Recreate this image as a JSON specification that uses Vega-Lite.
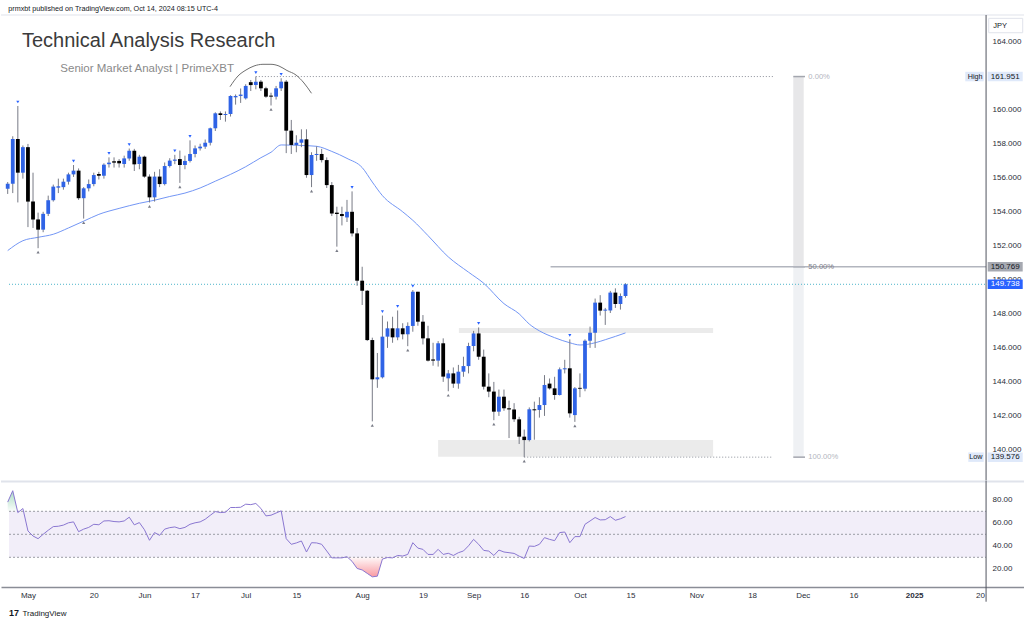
{
"$schema":"https://vega.github.io/schema/vega-lite/v6.json",
"autosize":"pad","padding":0,"background":"#ffffff","spacing":0,"bounds":"flush",
"config":{"view":{"stroke":null},"font":"Liberation Sans","axis":{"grid":false,"ticks":false,"domain":false,"labelFontSize":8,"labelColor":"#2a2e39"}},
"datasets":{
"candles":[
{"k":0,"d":"2024-04-25","o":155.35,"h":155.75,"l":155.05,"c":155.65,"pv":""},
{"k":1,"d":"2024-04-26","o":155.65,"h":158.44,"l":155.1,"c":158.28,"pv":""},
{"k":2,"d":"2024-04-29","o":158.28,"h":160.22,"l":154.55,"c":156.3,"pv":"H"},
{"k":3,"d":"2024-04-30","o":156.3,"h":157.9,"l":155.95,"c":157.8,"pv":""},
{"k":4,"d":"2024-05-01","o":157.8,"h":157.99,"l":153.1,"c":154.6,"pv":""},
{"k":5,"d":"2024-05-02","o":154.6,"h":156.3,"l":153.05,"c":153.55,"pv":""},
{"k":6,"d":"2024-05-03","o":153.55,"h":153.95,"l":151.86,"c":152.95,"pv":"L"},
{"k":7,"d":"2024-05-06","o":152.95,"h":154.0,"l":152.8,"c":153.88,"pv":""},
{"k":8,"d":"2024-05-07","o":153.88,"h":154.95,"l":153.75,"c":154.68,"pv":""},
{"k":9,"d":"2024-05-08","o":154.68,"h":155.6,"l":154.6,"c":155.48,"pv":""},
{"k":10,"d":"2024-05-09","o":155.42,"h":155.95,"l":155.1,"c":155.5,"pv":""},
{"k":11,"d":"2024-05-10","o":155.45,"h":155.95,"l":155.3,"c":155.77,"pv":""},
{"k":12,"d":"2024-05-13","o":155.77,"h":156.3,"l":155.6,"c":156.2,"pv":""},
{"k":13,"d":"2024-05-14","o":156.2,"h":156.75,"l":156.05,"c":156.42,"pv":"H"},
{"k":14,"d":"2024-05-15","o":156.42,"h":156.55,"l":154.7,"c":154.8,"pv":""},
{"k":15,"d":"2024-05-16","o":154.8,"h":155.45,"l":153.6,"c":155.38,"pv":"L"},
{"k":16,"d":"2024-05-17","o":155.38,"h":155.9,"l":155.2,"c":155.63,"pv":""},
{"k":17,"d":"2024-05-20","o":155.63,"h":156.3,"l":155.5,"c":156.16,"pv":""},
{"k":18,"d":"2024-05-21","o":156.22,"h":156.35,"l":155.9,"c":156.12,"pv":""},
{"k":19,"d":"2024-05-22","o":156.12,"h":156.85,"l":155.95,"c":156.77,"pv":""},
{"k":20,"d":"2024-05-23","o":156.8,"h":157.2,"l":156.6,"c":156.89,"pv":"H"},
{"k":21,"d":"2024-05-24","o":156.97,"h":157.2,"l":156.6,"c":156.89,"pv":""},
{"k":22,"d":"2024-05-27","o":156.99,"h":157.1,"l":156.6,"c":156.85,"pv":""},
{"k":23,"d":"2024-05-28","o":156.81,"h":157.3,"l":156.6,"c":157.14,"pv":""},
{"k":24,"d":"2024-05-29","o":157.14,"h":157.72,"l":157.0,"c":157.59,"pv":"H"},
{"k":25,"d":"2024-05-30","o":157.59,"h":157.7,"l":156.4,"c":156.79,"pv":""},
{"k":26,"d":"2024-05-31","o":156.81,"h":157.35,"l":156.5,"c":157.24,"pv":""},
{"k":27,"d":"2024-06-03","o":157.24,"h":157.3,"l":156.0,"c":156.07,"pv":""},
{"k":28,"d":"2024-06-04","o":156.07,"h":156.2,"l":154.55,"c":154.85,"pv":"L"},
{"k":29,"d":"2024-06-05","o":154.85,"h":156.35,"l":154.6,"c":156.07,"pv":""},
{"k":30,"d":"2024-06-06","o":156.07,"h":156.5,"l":155.45,"c":155.63,"pv":""},
{"k":31,"d":"2024-06-07","o":155.63,"h":156.9,"l":155.55,"c":156.69,"pv":""},
{"k":32,"d":"2024-06-10","o":156.69,"h":157.15,"l":156.6,"c":157.01,"pv":""},
{"k":33,"d":"2024-06-11","o":157.0,"h":157.35,"l":156.8,"c":157.07,"pv":"H"},
{"k":34,"d":"2024-06-12","o":157.1,"h":157.6,"l":155.7,"c":156.75,"pv":"L"},
{"k":35,"d":"2024-06-13","o":156.75,"h":157.3,"l":156.5,"c":156.99,"pv":""},
{"k":36,"d":"2024-06-14","o":156.99,"h":158.2,"l":156.9,"c":157.4,"pv":"H"},
{"k":37,"d":"2024-06-17","o":157.4,"h":157.9,"l":157.2,"c":157.73,"pv":""},
{"k":38,"d":"2024-06-18","o":157.73,"h":158.0,"l":157.6,"c":157.83,"pv":""},
{"k":39,"d":"2024-06-19","o":157.83,"h":158.25,"l":157.7,"c":158.06,"pv":""},
{"k":40,"d":"2024-06-20","o":158.06,"h":158.95,"l":157.9,"c":158.91,"pv":""},
{"k":41,"d":"2024-06-21","o":158.91,"h":159.85,"l":158.75,"c":159.79,"pv":""},
{"k":42,"d":"2024-06-24","o":159.79,"h":159.9,"l":159.4,"c":159.69,"pv":""},
{"k":43,"d":"2024-06-25","o":159.69,"h":159.9,"l":159.3,"c":159.75,"pv":""},
{"k":44,"d":"2024-06-26","o":159.75,"h":160.85,"l":159.6,"c":160.81,"pv":""},
{"k":45,"d":"2024-06-27","o":160.73,"h":160.9,"l":160.3,"c":160.81,"pv":""},
{"k":46,"d":"2024-06-28","o":160.81,"h":161.25,"l":160.4,"c":160.89,"pv":""},
{"k":47,"d":"2024-07-01","o":160.67,"h":161.5,"l":160.6,"c":161.4,"pv":""},
{"k":48,"d":"2024-07-02","o":161.62,"h":161.75,"l":161.1,"c":161.45,"pv":""},
{"k":49,"d":"2024-07-03","o":161.45,"h":161.951,"l":161.2,"c":161.65,"pv":"H"},
{"k":50,"d":"2024-07-04","o":161.65,"h":161.75,"l":161.1,"c":161.26,"pv":""},
{"k":51,"d":"2024-07-05","o":161.26,"h":161.35,"l":160.7,"c":160.77,"pv":""},
{"k":52,"d":"2024-07-08","o":160.83,"h":161.0,"l":160.25,"c":160.77,"pv":"L"},
{"k":53,"d":"2024-07-09","o":160.77,"h":161.4,"l":160.6,"c":161.26,"pv":""},
{"k":54,"d":"2024-07-10","o":161.26,"h":161.85,"l":161.1,"c":161.65,"pv":"H"},
{"k":55,"d":"2024-07-11","o":161.65,"h":161.75,"l":157.45,"c":158.77,"pv":""},
{"k":56,"d":"2024-07-12","o":158.77,"h":159.4,"l":157.4,"c":157.93,"pv":""},
{"k":57,"d":"2024-07-15","o":157.93,"h":158.5,"l":157.5,"c":158.06,"pv":""},
{"k":58,"d":"2024-07-16","o":158.06,"h":158.85,"l":157.8,"c":158.26,"pv":""},
{"k":59,"d":"2024-07-17","o":158.26,"h":158.85,"l":156.0,"c":156.16,"pv":""},
{"k":60,"d":"2024-07-18","o":156.16,"h":157.5,"l":155.45,"c":157.34,"pv":"L"},
{"k":61,"d":"2024-07-19","o":157.34,"h":157.85,"l":157.0,"c":157.4,"pv":""},
{"k":62,"d":"2024-07-22","o":157.4,"h":157.7,"l":156.9,"c":157.04,"pv":""},
{"k":63,"d":"2024-07-23","o":157.04,"h":157.2,"l":155.4,"c":155.57,"pv":""},
{"k":64,"d":"2024-07-24","o":155.57,"h":155.75,"l":153.75,"c":153.9,"pv":""},
{"k":65,"d":"2024-07-25","o":153.95,"h":154.3,"l":151.95,"c":153.87,"pv":"L"},
{"k":66,"d":"2024-07-26","o":153.87,"h":154.3,"l":153.2,"c":153.75,"pv":""},
{"k":67,"d":"2024-07-29","o":153.67,"h":154.7,"l":153.4,"c":154.0,"pv":""},
{"k":68,"d":"2024-07-30","o":154.0,"h":155.2,"l":152.55,"c":152.73,"pv":"H"},
{"k":69,"d":"2024-07-31","o":152.73,"h":153.05,"l":149.65,"c":149.95,"pv":""},
{"k":70,"d":"2024-08-01","o":149.95,"h":150.77,"l":148.52,"c":149.36,"pv":""},
{"k":71,"d":"2024-08-02","o":149.36,"h":149.4,"l":146.4,"c":146.46,"pv":""},
{"k":72,"d":"2024-08-05","o":146.46,"h":146.6,"l":141.68,"c":144.15,"pv":"L"},
{"k":73,"d":"2024-08-06","o":144.15,"h":145.7,"l":143.65,"c":144.27,"pv":""},
{"k":74,"d":"2024-08-07","o":144.27,"h":147.9,"l":144.2,"c":146.66,"pv":"H"},
{"k":75,"d":"2024-08-08","o":146.66,"h":147.55,"l":146.0,"c":147.15,"pv":""},
{"k":76,"d":"2024-08-09","o":147.15,"h":147.83,"l":146.3,"c":146.62,"pv":""},
{"k":77,"d":"2024-08-12","o":146.62,"h":148.2,"l":146.45,"c":147.15,"pv":"H"},
{"k":78,"d":"2024-08-13","o":147.15,"h":147.45,"l":146.5,"c":146.8,"pv":""},
{"k":79,"d":"2024-08-14","o":146.8,"h":147.5,"l":146.1,"c":147.29,"pv":"L"},
{"k":80,"d":"2024-08-15","o":147.29,"h":149.4,"l":146.95,"c":149.3,"pv":"H"},
{"k":81,"d":"2024-08-16","o":149.3,"h":149.3,"l":147.3,"c":147.54,"pv":""},
{"k":82,"d":"2024-08-19","o":147.54,"h":147.93,"l":146.2,"c":146.56,"pv":""},
{"k":83,"d":"2024-08-20","o":146.56,"h":147.3,"l":145.2,"c":145.25,"pv":""},
{"k":84,"d":"2024-08-21","o":145.32,"h":146.3,"l":144.95,"c":145.25,"pv":""},
{"k":85,"d":"2024-08-22","o":145.25,"h":146.4,"l":144.9,"c":146.27,"pv":""},
{"k":86,"d":"2024-08-23","o":146.27,"h":146.56,"l":144.0,"c":144.31,"pv":""},
{"k":87,"d":"2024-08-26","o":144.21,"h":144.7,"l":143.45,"c":144.5,"pv":"L"},
{"k":88,"d":"2024-08-27","o":144.5,"h":144.85,"l":143.65,"c":143.9,"pv":""},
{"k":89,"d":"2024-08-28","o":143.9,"h":145.0,"l":143.6,"c":144.6,"pv":""},
{"k":90,"d":"2024-08-29","o":144.6,"h":145.48,"l":144.3,"c":144.93,"pv":""},
{"k":91,"d":"2024-08-30","o":144.93,"h":146.3,"l":144.5,"c":146.11,"pv":""},
{"k":92,"d":"2024-09-02","o":146.11,"h":147.0,"l":145.8,"c":146.85,"pv":""},
{"k":93,"d":"2024-09-03","o":146.85,"h":147.2,"l":145.3,"c":145.48,"pv":"H"},
{"k":94,"d":"2024-09-04","o":145.48,"h":145.9,"l":143.55,"c":143.72,"pv":""},
{"k":95,"d":"2024-09-05","o":143.72,"h":144.5,"l":143.1,"c":143.43,"pv":""},
{"k":96,"d":"2024-09-06","o":143.43,"h":144.0,"l":141.75,"c":142.25,"pv":"L"},
{"k":97,"d":"2024-09-09","o":142.25,"h":143.55,"l":142.0,"c":143.13,"pv":""},
{"k":98,"d":"2024-09-10","o":143.13,"h":143.55,"l":142.3,"c":142.45,"pv":""},
{"k":99,"d":"2024-09-11","o":142.45,"h":142.9,"l":140.7,"c":142.38,"pv":""},
{"k":100,"d":"2024-09-12","o":142.38,"h":142.75,"l":141.65,"c":141.8,"pv":""},
{"k":101,"d":"2024-09-13","o":141.8,"h":141.95,"l":140.35,"c":140.78,"pv":""},
{"k":102,"d":"2024-09-16","o":140.78,"h":141.2,"l":139.576,"c":140.58,"pv":"L"},
{"k":103,"d":"2024-09-17","o":140.58,"h":142.5,"l":140.5,"c":142.39,"pv":""},
{"k":104,"d":"2024-09-18","o":142.39,"h":142.84,"l":140.6,"c":142.33,"pv":""},
{"k":105,"d":"2024-09-19","o":142.35,"h":143.1,"l":141.9,"c":142.64,"pv":""},
{"k":106,"d":"2024-09-20","o":142.64,"h":144.4,"l":142.0,"c":143.82,"pv":""},
{"k":107,"d":"2024-09-23","o":143.9,"h":144.2,"l":143.55,"c":143.62,"pv":""},
{"k":108,"d":"2024-09-24","o":143.62,"h":144.3,"l":142.95,"c":143.23,"pv":""},
{"k":109,"d":"2024-09-25","o":143.23,"h":144.85,"l":143.2,"c":144.74,"pv":""},
{"k":110,"d":"2024-09-26","o":144.74,"h":145.3,"l":144.5,"c":144.8,"pv":""},
{"k":111,"d":"2024-09-27","o":144.8,"h":146.5,"l":141.9,"c":142.15,"pv":"H"},
{"k":112,"d":"2024-09-30","o":142.05,"h":143.7,"l":141.65,"c":143.62,"pv":"L"},
{"k":113,"d":"2024-10-01","o":143.65,"h":144.5,"l":143.1,"c":143.6,"pv":""},
{"k":114,"d":"2024-10-02","o":143.6,"h":146.5,"l":143.45,"c":146.42,"pv":""},
{"k":115,"d":"2024-10-03","o":146.42,"h":147.25,"l":146.0,"c":146.89,"pv":""},
{"k":116,"d":"2024-10-04","o":146.89,"h":148.9,"l":146.0,"c":148.66,"pv":""},
{"k":117,"d":"2024-10-07","o":148.66,"h":149.1,"l":147.9,"c":148.19,"pv":""},
{"k":118,"d":"2024-10-08","o":148.19,"h":148.35,"l":147.35,"c":148.25,"pv":""},
{"k":119,"d":"2024-10-09","o":148.2,"h":149.35,"l":148.05,"c":149.25,"pv":""},
{"k":120,"d":"2024-10-10","o":149.25,"h":149.5,"l":148.35,"c":148.58,"pv":""},
{"k":121,"d":"2024-10-11","o":148.58,"h":149.2,"l":148.25,"c":149.05,"pv":""},
{"k":122,"d":"2024-10-14","o":149.05,"h":149.8,"l":148.95,"c":149.738,"pv":""}
],
"ma":[
{"k":0,"v":151.72},{"k":3,"v":152.3},{"k":6,"v":152.5},{"k":9,"v":152.68},{"k":12,"v":153.05},{"k":15,"v":153.45},{"k":18,"v":153.85},{"k":22,"v":154.2},{"k":26,"v":154.5},{"k":29,"v":154.68},{"k":32,"v":154.9},{"k":35,"v":155.1},{"k":38,"v":155.4},{"k":41,"v":155.8},{"k":44,"v":156.2},{"k":47,"v":156.65},{"k":50,"v":157.18},{"k":52,"v":157.5},{"k":54,"v":157.93},{"k":58,"v":157.9},{"k":61,"v":157.85},{"k":64,"v":157.55},{"k":67,"v":157.14},{"k":70,"v":156.6},{"k":72,"v":155.75},{"k":74,"v":154.95},{"k":78,"v":154.0},{"k":80,"v":153.5},{"k":83,"v":152.6},{"k":87,"v":151.35},{"k":91,"v":150.45},{"k":94,"v":149.8},{"k":98,"v":148.6},{"k":101,"v":148.0},{"k":103,"v":147.4},{"k":105,"v":147.0},{"k":108,"v":146.6},{"k":111,"v":146.3},{"k":113,"v":146.17},{"k":116,"v":146.3},{"k":118,"v":146.48},{"k":122,"v":146.88}
],
"rsi":[
{"k":0,"r":78},{"k":1,"r":87.9},{"k":2,"r":68.9},{"k":3,"r":72.4},{"k":4,"r":52.9},{"k":5,"r":48.5},{"k":6,"r":46.2},{"k":7,"r":50},{"k":8,"r":53.5},{"k":9,"r":56.7},{"k":10,"r":57},{"k":11,"r":58},{"k":12,"r":60},{"k":13,"r":60.8},{"k":14,"r":52.3},{"k":15,"r":54.5},{"k":16,"r":56},{"k":17,"r":58.7},{"k":18,"r":58.3},{"k":19,"r":61.6},{"k":20,"r":61.8},{"k":21,"r":61.1},{"k":22,"r":60.8},{"k":23,"r":61.6},{"k":24,"r":64.9},{"k":25,"r":58.2},{"k":26,"r":60.2},{"k":27,"r":54},{"k":28,"r":44.8},{"k":29,"r":51.5},{"k":30,"r":49.1},{"k":31,"r":54.5},{"k":32,"r":55.8},{"k":33,"r":56.4},{"k":34,"r":54.9},{"k":35,"r":56},{"k":36,"r":58.7},{"k":37,"r":60},{"k":38,"r":60.8},{"k":39,"r":63.1},{"k":40,"r":66.5},{"k":41,"r":69.8},{"k":42,"r":68.9},{"k":43,"r":69.2},{"k":44,"r":73.3},{"k":45,"r":73.3},{"k":46,"r":73.5},{"k":47,"r":76.2},{"k":48,"r":75.8},{"k":49,"r":76.8},{"k":50,"r":72.5},{"k":51,"r":66},{"k":52,"r":66.6},{"k":53,"r":68.5},{"k":54,"r":70.4},{"k":55,"r":46.2},{"k":56,"r":41.3},{"k":57,"r":42.5},{"k":58,"r":44.2},{"k":59,"r":34.6},{"k":60,"r":42.7},{"k":61,"r":42.5},{"k":62,"r":41.3},{"k":63,"r":35.5},{"k":64,"r":29.5},{"k":65,"r":29.5},{"k":66,"r":29.5},{"k":67,"r":30.5},{"k":68,"r":26.5},{"k":69,"r":20.3},{"k":70,"r":19},{"k":71,"r":16},{"k":72,"r":13},{"k":73,"r":13.6},{"k":74,"r":28.5},{"k":75,"r":29.8},{"k":76,"r":29.5},{"k":77,"r":31.6},{"k":78,"r":31.1},{"k":79,"r":32.5},{"k":80,"r":42.7},{"k":81,"r":38},{"k":82,"r":36.9},{"k":83,"r":32.5},{"k":84,"r":32.5},{"k":85,"r":36.9},{"k":86,"r":32.5},{"k":87,"r":33.5},{"k":88,"r":31.6},{"k":89,"r":34},{"k":90,"r":35.5},{"k":91,"r":40},{"k":92,"r":45.6},{"k":93,"r":41.3},{"k":94,"r":36},{"k":95,"r":35.4},{"k":96,"r":31.6},{"k":97,"r":36.3},{"k":98,"r":34.6},{"k":99,"r":34},{"k":100,"r":33.4},{"k":101,"r":31},{"k":102,"r":29},{"k":103,"r":39.8},{"k":104,"r":39.5},{"k":105,"r":41.3},{"k":106,"r":47.1},{"k":107,"r":45.6},{"k":108,"r":44.5},{"k":109,"r":51.5},{"k":110,"r":52},{"k":111,"r":42.7},{"k":112,"r":48},{"k":113,"r":48},{"k":114,"r":58.7},{"k":115,"r":61.6},{"k":116,"r":64.6},{"k":117,"r":62.5},{"k":118,"r":62.7},{"k":119,"r":65.4},{"k":120,"r":62.2},{"k":121,"r":63.5},{"k":122,"r":65.4}
],
"ob":[{"k":0,"r":78},{"k":1,"r":87.9},{"k":1.942,"r":70}],
"os":[{"k":67.125,"r":30},{"k":68,"r":26.5},{"k":69,"r":20.3},{"k":70,"r":19},{"k":71,"r":16},{"k":72,"r":13},{"k":73,"r":13.6},{"k":74,"r":28.5},{"k":75,"r":29.8},{"k":76,"r":29.5},{"k":76.238,"r":30}],
"levels":[
{"lv":"High","p":161.951,"k0":49,"pct":"0.00%"},
{"lv":"Mid","p":150.769,"k0":107.2,"pct":"50.00%"},
{"lv":"Low","p":139.576,"k0":102,"pct":"100.00%"},
{"lv":"Last","p":149.738,"k0":0.26,"pct":""}
],
"zones":[{"k0":89.1,"k1":139.3,"p0":146.88,"p1":147.17},{"k0":85.0,"k1":139.3,"p0":139.6,"p1":140.58}],
"fib":[{"part":"upper","p0":161.951,"p1":150.769},{"part":"lower","p0":150.769,"p1":139.576}],
"arc":[{"k":43.9,"p":161.355},{"k":45.48,"p":161.984},{"k":47.06,"p":162.336},{"k":48.64,"p":162.571},{"k":50.41,"p":162.671},{"k":51.99,"p":162.671},{"k":53.57,"p":162.571},{"k":55.15,"p":162.307},{"k":56.93,"p":162.042},{"k":58.51,"p":161.572},{"k":59.99,"p":160.967}],
"rsilv":[{"r":70},{"r":50},{"r":30}]
},
"vconcat":[
{"width":1024,"height":481,"layer":[
{"data":{"values":[{}]},"mark":{"type":"rule","color":"#e0e3eb","strokeWidth":1},"encoding":{"x":{"datum":-1.3231,"scale":{"domain":[-1.3231,200.888],"nice":false,"zero":false,"padding":0},"axis":null},"x2":{"datum":200.888},"y":{"datum":165.57,"scale":{"domain":[138.174,166.4515],"nice":false,"zero":false,"padding":0}}}},
{"data":{"name":"zones"},"mark":{"type":"rect","color":"#ebebeb"},"encoding":{"x":{"field":"k0","type":"quantitative","axis":null},"x2":{"field":"k1"},"y":{"field":"p0","type":"quantitative"},"y2":{"field":"p1"}}},
{"data":{"name":"fib"},"mark":{"type":"rect"},"encoding":{"x":{"datum":155.13,"axis":null},"x2":{"datum":157.19},"y":{"field":"p0","type":"quantitative"},"y2":{"field":"p1"},"color":{"condition":{"test":"datum.part==='upper'","value":"#e7e7e9"},"value":"#eff1f4"}}},
{"data":{"name":"levels"},"transform":[{"filter":"datum.lv!=='Last'"}],"mark":{"type":"rule","color":"#a3a6ae","strokeWidth":1.5},"encoding":{"x":{"datum":155.13,"axis":null},"x2":{"datum":157.45},"y":{"field":"p","type":"quantitative"}}},
{"data":{"name":"levels"},"transform":[{"filter":"datum.lv==='High'||datum.lv==='Low'"}],"mark":{"type":"rule","color":"#8c8f99","strokeWidth":1,"strokeDash":[1,2]},"encoding":{"x":{"field":"k0","type":"quantitative","axis":null},"x2":{"datum":151.13},"y":{"field":"p","type":"quantitative"}}},
{"data":{"name":"levels"},"transform":[{"filter":"datum.lv==='Mid'"}],"mark":{"type":"rule","color":"#b2b5be","strokeWidth":1.5},"encoding":{"x":{"field":"k0","type":"quantitative","axis":null},"x2":{"datum":193.2},"y":{"field":"p","type":"quantitative"}}},
{"data":{"name":"levels"},"transform":[{"filter":"datum.lv==='Last'"}],"mark":{"type":"rule","color":"#4bb4c9","strokeWidth":1,"strokeDash":[1,2]},"encoding":{"x":{"field":"k0","type":"quantitative","axis":null},"x2":{"datum":193.2},"y":{"field":"p","type":"quantitative"}}},
{"data":{"name":"levels"},"transform":[{"filter":"datum.lv!=='Last'"}],"mark":{"type":"text","align":"left","baseline":"middle","fontSize":7.6},"encoding":{"x":{"datum":158.1,"axis":null},"y":{"field":"p","type":"quantitative"},"text":{"field":"pct"},"color":{"condition":{"test":"datum.lv==='Mid'","value":"#7d808a"},"value":"#b2b5be"}}},
{"data":{"name":"ma"},"mark":{"type":"line","color":"#7396f5","strokeWidth":1,"interpolate":"monotone"},"encoding":{"x":{"field":"k","type":"quantitative","axis":null},"y":{"field":"v","type":"quantitative"}}},
{"data":{"name":"candles"},"mark":{"type":"rule","color":"#787b86","strokeWidth":1},"encoding":{
 "x":{"field":"k","type":"quantitative","scale":{"domain":[-1.3231,200.888],"nice":false,"zero":false,"padding":0},"axis":null},
 "y":{"field":"l","type":"quantitative","scale":{"domain":[138.174,166.4515],"nice":false,"zero":false,"padding":0},
  "axis":{"orient":"right","offset":-39,"title":null,"grid":false,"ticks":false,"tickSize":0,"domain":false,
   "values":[140,142,144,146,148,150,152,154,156,158,160,164],"format":".3f","labelPadding":6,"labelFontSize":8,"labelColor":"#2a2e39","labelOverlap":false,"labelBound":false,"labelFlush":false}},
 "y2":{"field":"h"}}},
{"data":{"name":"candles"},"mark":{"type":"bar","size":3.8},"encoding":{"x":{"field":"k","type":"quantitative","scale":{"domain":[-1.3231,200.888],"nice":false,"zero":false,"padding":0},"axis":null},"y":{"field":"o","type":"quantitative"},"y2":{"field":"c"},"color":{"condition":{"test":"datum.c>=datum.o","value":"#2f63e6"},"value":"#000000"}}},
{"data":{"name":"candles"},"transform":[{"filter":"datum.pv==='H'"}],"mark":{"type":"point","shape":"triangle-down","size":10,"filled":true,"opacity":1,"color":"#2962ff","yOffset":-4},"encoding":{"x":{"field":"k","type":"quantitative","axis":null},"y":{"field":"h","type":"quantitative"}}},
{"data":{"name":"candles"},"transform":[{"filter":"datum.pv==='L'"}],"mark":{"type":"point","shape":"triangle-up","size":10,"filled":true,"opacity":1,"color":"#787b86","yOffset":4},"encoding":{"x":{"field":"k","type":"quantitative","axis":null},"y":{"field":"l","type":"quantitative"}}},
{"data":{"name":"arc"},"mark":{"type":"line","color":"#6f6f6f","strokeWidth":1,"interpolate":"monotone"},"encoding":{"x":{"field":"k","type":"quantitative","axis":null},"y":{"field":"p","type":"quantitative"}}},
{"data":{"values":[{"t":"prmxbt published on TradingView.com, Oct 14, 2024 08:15 UTC-4"}]},"mark":{"type":"text","align":"left","baseline":"alphabetic","fontSize":7.2,"color":"#131722"},"encoding":{"x":{"datum":0.12,"axis":null},"y":{"datum":165.822},"text":{"field":"t"}}},
{"data":{"values":[{"t":"Technical Analysis Research"}]},"mark":{"type":"text","align":"left","baseline":"alphabetic","fontSize":20,"color":"#3b3b3b"},"encoding":{"x":{"datum":2.82,"axis":null},"y":{"datum":163.706},"text":{"field":"t"}}},
{"data":{"values":[{"t":"Senior Market Analyst | PrimeXBT"}]},"mark":{"type":"text","align":"left","baseline":"alphabetic","fontSize":11.5,"color":"#8a8a8a"},"encoding":{"x":{"datum":10.39,"axis":null},"y":{"datum":162.236},"text":{"field":"t"}}},
{"data":{"name":"levels"},"mark":{"type":"tick","orient":"horizontal","size":35,"thickness":9.5,"opacity":1},"encoding":{"x":{"datum":196.98,"axis":null},"y":{"field":"p","type":"quantitative"},"color":{"condition":[{"test":"datum.lv==='Last'","value":"#2962ff"},{"test":"datum.lv==='Mid'","value":"#a6a9b1"}],"value":"#dfe9fa"}}},
{"data":{"name":"levels"},"mark":{"type":"text","align":"center","baseline":"middle","fontSize":8},"encoding":{"x":{"datum":196.98,"axis":null},"y":{"field":"p","type":"quantitative"},"text":{"field":"p","type":"quantitative","format":".3f"},"color":{"condition":{"test":"datum.lv==='Last'","value":"#ffffff"},"value":"#131722"}}},
{"data":{"name":"levels"},"transform":[{"filter":"datum.lv==='High'"}],"mark":{"type":"tick","orient":"horizontal","size":18.4,"thickness":9.5,"opacity":1,"color":"#dfe9fa"},"encoding":{"x":{"datum":190.91,"axis":null},"y":{"field":"p","type":"quantitative"}}},
{"data":{"name":"levels"},"transform":[{"filter":"datum.lv==='Low'"}],"mark":{"type":"tick","orient":"horizontal","size":15.4,"thickness":9.5,"opacity":1,"color":"#dfe9fa"},"encoding":{"x":{"datum":191.21,"axis":null},"y":{"field":"p","type":"quantitative"}}},
{"data":{"name":"levels"},"transform":[{"filter":"datum.lv==='High'||datum.lv==='Low'"}],"mark":{"type":"text","align":"right","baseline":"middle","fontSize":7.2,"color":"#131722"},"encoding":{"x":{"datum":192.5,"axis":null},"y":{"field":"p","type":"quantitative"},"text":{"field":"lv"}}},
{"data":{"values":[{"t":"JPY"}]},"mark":{"type":"tick","orient":"horizontal","size":34,"thickness":14.4,"opacity":1,"color":"#ffffff","stroke":"#e0e3eb","strokeWidth":1},"encoding":{"x":{"datum":197.08,"axis":null},"y":{"datum":164.95}}},
{"data":{"values":[{"t":"JPY"}]},"mark":{"type":"text","align":"left","baseline":"middle","fontSize":7.5,"color":"#131722"},"encoding":{"x":{"datum":194.6,"axis":null},"y":{"datum":164.95},"text":{"field":"t"}}},
{"data":{"values":[{}]},"mark":{"type":"rule","color":"#50535e","strokeWidth":1},"encoding":{"x":{"datum":193.2,"axis":null},"y":{"datum":165.57},"y2":{"datum":138.174}}}
]},
{"width":1024,"height":141,"layer":[
{"data":{"values":[{}]},"mark":{"type":"rect","color":"#7e57c2","opacity":0.1},"encoding":{"x":{"datum":0.26,"scale":{"domain":[-1.3231,200.888],"nice":false,"zero":false,"padding":0}},"x2":{"datum":193.2},"y":{"datum":70,"scale":{"domain":[-26.26,96.35],"nice":false,"zero":false,"padding":0}},"y2":{"datum":30}}},
{"data":{"values":[{}]},"mark":{"type":"rule","color":"#e0e3eb","strokeWidth":2},"encoding":{"x":{"datum":-1.3231},"x2":{"datum":200.888},"y":{"datum":96.0}}},
{"data":{"name":"rsilv"},"mark":{"type":"rule","color":"#9a9ca4","strokeWidth":1,"strokeDash":[2,2]},"encoding":{"x":{"datum":0.26},"x2":{"datum":193.2},"y":{"field":"r","type":"quantitative"}}},
{"data":{"name":"ob"},"mark":{"type":"area","line":false,"color":{"gradient":"linear","x1":0,"y1":0,"x2":0,"y2":1,"stops":[{"offset":0,"color":"rgba(8,153,80,0.35)"},{"offset":1,"color":"rgba(8,153,80,0.02)"}]}},"encoding":{"x":{"field":"k","type":"quantitative"},"y":{"field":"r","type":"quantitative","scale":{"domain":[-26.26,96.35],"nice":false,"zero":false,"padding":0}},"y2":{"datum":70}}},
{"data":{"name":"os"},"mark":{"type":"area","line":false,"color":{"gradient":"linear","x1":0,"y1":0,"x2":0,"y2":1,"stops":[{"offset":0,"color":"rgba(242,54,69,0.03)"},{"offset":1,"color":"rgba(242,54,69,0.5)"}]}},"encoding":{"x":{"field":"k","type":"quantitative"},"y":{"field":"r","type":"quantitative","scale":{"domain":[-26.26,96.35],"nice":false,"zero":false,"padding":0}},"y2":{"datum":30}}},
{"data":{"name":"rsi"},"mark":{"type":"line","color":"#8a77d1","strokeWidth":1},"encoding":{
 "x":{"field":"k","type":"quantitative","scale":{"domain":[-1.3231,200.888],"nice":false,"zero":false,"padding":0},
  "axis":{"orient":"bottom","offset":-35,"title":null,"grid":false,"ticks":false,"tickSize":0,"domain":true,"domainColor":"#8a8d96","domainWidth":1.5,
   "values":[4,17,27,37,47,57,70,82,92,102,113,123,136,147,157,167,179,192],
   "labelExpr":"datum.value==4?'May':datum.value==17?'20':datum.value==27?'Jun':datum.value==37?'17':datum.value==47?'Jul':datum.value==57?'15':datum.value==70?'Aug':datum.value==82?'19':datum.value==92?'Sep':datum.value==102?'16':datum.value==113?'Oct':datum.value==123?'15':datum.value==136?'Nov':datum.value==147?'18':datum.value==157?'Dec':datum.value==167?'16':datum.value==179?'2025':'20'",
   "labelPadding":8,"labelBaseline":"middle","labelFontSize":8,"labelColor":"#2a2e39","labelOverlap":false,"labelBound":false,"labelFlush":false,
   "labelFontWeight":{"condition":{"test":"datum.value==179","value":"bold"},"value":"normal"}}},
 "y":{"field":"r","type":"quantitative","scale":{"domain":[-26.26,96.35],"nice":false,"zero":false,"padding":0},
  "axis":{"orient":"right","offset":-39,"title":null,"grid":false,"ticks":false,"tickSize":0,"domain":false,"values":[20,40,60,80],"format":".2f","labelPadding":6,"labelFontSize":8,"labelColor":"#2a2e39","labelOverlap":false,"labelBound":false,"labelFlush":false}}}},
{"data":{"values":[{"t":"17"}]},"mark":{"type":"text","align":"left","baseline":"alphabetic","fontSize":9,"fontWeight":900,"color":"#131722"},"encoding":{"x":{"datum":0.26},"y":{"datum":-21.04},"text":{"field":"t"}}},
{"data":{"values":[{"t":"TradingView"}]},"mark":{"type":"text","align":"left","baseline":"alphabetic","fontSize":8,"fontWeight":500,"color":"#131722"},"encoding":{"x":{"datum":2.92},"y":{"datum":-21.04},"text":{"field":"t"}}},
{"data":{"values":[{}]},"mark":{"type":"rule","color":"#50535e","strokeWidth":1},"encoding":{"x":{"datum":193.2},"y":{"datum":96.35},"y2":{"datum":-8.61}}}
]}
]
}
